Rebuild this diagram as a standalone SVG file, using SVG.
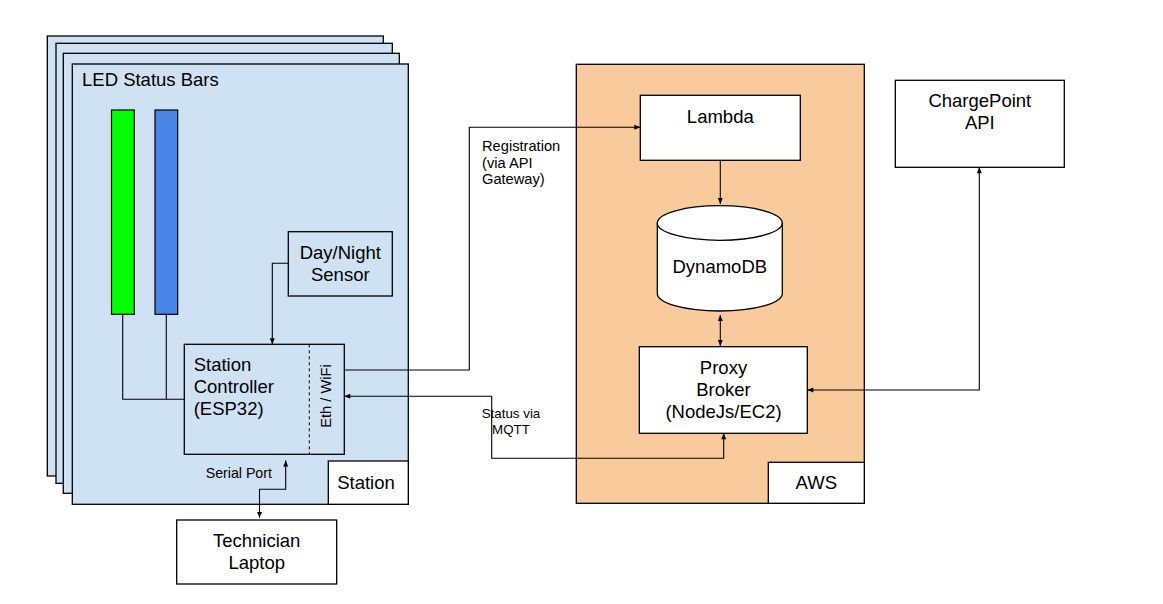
<svg xmlns="http://www.w3.org/2000/svg" width="1163" height="604" viewBox="0 0 1163 604">
<defs>
<style>
.card{fill:#cfe2f3;stroke:#000;stroke-width:1.3}
.box{fill:#fff;stroke:#000;stroke-width:1.3}
.lbox{fill:#cfe2f3;stroke:#000;stroke-width:1.3}
.conn{fill:none;stroke:#000;stroke-width:1.1}
text{font-family:"Liberation Sans",Arial,sans-serif;fill:#000}
.t18{font-size:18.5px}
.t15{font-size:14.67px}
.t14{font-size:14.2px}
.t13{font-size:13.33px}
.mid{text-anchor:middle}
</style>
<marker id="arr" markerUnits="userSpaceOnUse" markerWidth="8" markerHeight="8" viewBox="0 0 8 8" refX="7" refY="4" orient="auto-start-reverse">
<path d="M1,1.5 L7,4 L1,6.5 Z" fill="#000"/>
</marker>
</defs>

<g id="station-stack">
<rect class="card" x="47.3" y="36" width="336" height="440"/>
<rect class="card" x="56" y="43.3" width="336.3" height="440"/>
<rect class="card" x="63.3" y="53.3" width="336" height="440"/>
<rect class="card" x="72.3" y="64" width="336" height="440.3"/>
<text class="t18" x="82" y="86">LED Status Bars</text>
</g>

<g id="station-label">
<rect class="box" x="328.3" y="461" width="80" height="43.3"/>
<text class="t18 mid" x="366" y="488.5">Station</text>
</g>

<g id="led-green">
<rect x="111.5" y="110" width="22.8" height="204.3" fill="#00ff00" stroke="#000" stroke-width="1.2"/>
</g>
<g id="led-blue">
<rect x="155" y="110" width="22.7" height="204.3" fill="#4a86e8" stroke="#000" stroke-width="1.2"/>
</g>

<g id="day-night-sensor">
<rect class="lbox" x="288.3" y="231.7" width="104" height="64.3"/>
<text class="t18 mid" x="340.3" y="258.5">Day/Night</text>
<text class="t18 mid" x="340.3" y="280.5">Sensor</text>
</g>

<g id="station-controller">
<rect class="lbox" x="184.3" y="344.3" width="160" height="110"/>
<line x1="309.3" y1="344.3" x2="309.3" y2="454.3" stroke="#000" stroke-width="1" stroke-dasharray="3,3"/>
<text class="t18" x="193.7" y="371">Station</text>
<text class="t18" x="193.7" y="393">Controller</text>
<text class="t18" x="193.7" y="415">(ESP32)</text>
<text class="t15 mid" transform="translate(330.5,396) rotate(-90)">Eth / WiFi</text>
</g>

<g id="technician-laptop">
<rect class="box" x="176.7" y="520" width="160" height="64"/>
<text class="t18 mid" x="256.7" y="546.7">Technician</text>
<text class="t18 mid" x="256.7" y="568.5">Laptop</text>
</g>

<g id="aws">
<rect x="576.3" y="64.3" width="288" height="439" fill="#f9cb9c" stroke="#000" stroke-width="1.3"/>
<rect class="box" x="768.3" y="462.3" width="96" height="41"/>
<text class="t18 mid" x="816.3" y="489">AWS</text>
</g>

<g id="lambda">
<rect class="box" x="640.3" y="95.3" width="160" height="65"/>
<text class="t18 mid" x="720.3" y="122.7">Lambda</text>
</g>

<g id="dynamodb">
<path d="M657.3,223 A62.5,17.3 0 0 1 782.3,223 L782.3,293.5 A62.5,17.5 0 0 1 657.3,293.5 Z" fill="#fff" stroke="#000" stroke-width="1.3"/>
<path d="M657.3,223 A62.5,17.3 0 0 0 782.3,223" fill="none" stroke="#000" stroke-width="1.3"/>
<text class="t18 mid" x="719.8" y="272.5">DynamoDB</text>
</g>

<g id="proxy-broker">
<rect class="box" x="639.3" y="346.7" width="168" height="86.6"/>
<text class="t18 mid" x="723.5" y="373.5">Proxy</text>
<text class="t18 mid" x="723.5" y="395.5">Broker</text>
<text class="t18 mid" x="723.5" y="417.5">(NodeJs/EC2)</text>
</g>

<g id="chargepoint-api">
<rect class="box" x="895.3" y="80.3" width="169" height="87"/>
<text class="t18 mid" x="979.8" y="107">ChargePoint</text>
<text class="t18 mid" x="979.8" y="129">API</text>
</g>

<g id="connectors">
<polyline class="conn" points="122.7,314.3 122.7,399.3 184.3,399.3"/>
<polyline class="conn" points="166.3,314.3 166.3,399.3"/>
<polyline class="conn" points="288.3,263.3 272.3,263.3 272.3,344.3" marker-end="url(#arr)"/>
<polyline class="conn" points="344.3,370 469.3,370 469.3,127.3 640.3,127.3" marker-end="url(#arr)"/>
<polyline class="conn" points="344.3,396.3 491.7,396.3 491.7,458.3 723.7,458.3 723.7,433.3" marker-start="url(#arr)" marker-end="url(#arr)"/>
<line class="conn" x1="720.3" y1="160.3" x2="720.3" y2="204" marker-end="url(#arr)"/>
<line class="conn" x1="720.3" y1="315" x2="720.3" y2="346" marker-start="url(#arr)" marker-end="url(#arr)"/>
<polyline class="conn" points="807.3,390 979.3,390 979.3,167.3" marker-start="url(#arr)" marker-end="url(#arr)"/>
<polyline class="conn" points="285.7,460.5 285.7,489.3 259.5,489.3 259.5,518" marker-start="url(#arr)" marker-end="url(#arr)"/>
</g>

<g id="labels">
<text class="t15" x="482" y="151">Registration</text>
<text class="t15" x="482" y="167.5">(via API</text>
<text class="t15" x="482" y="184">Gateway)</text>
<text class="t13 mid" x="511" y="418">Status via</text>
<text class="t13 mid" x="511" y="433.5">MQTT</text>
<text class="t14" x="205.7" y="477.5">Serial Port</text>
</g>
</svg>
